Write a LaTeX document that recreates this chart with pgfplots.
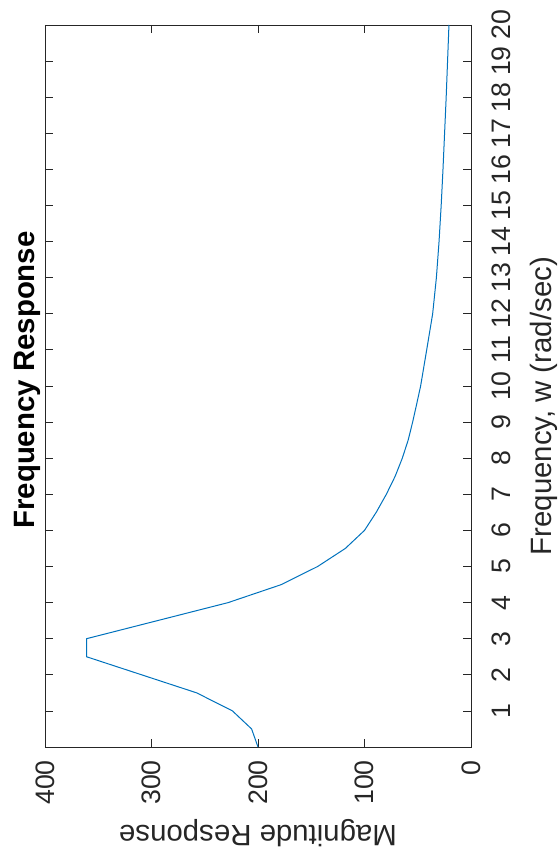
\documentclass[border=0pt]{standalone}
\usepackage{pgfplots}
\pgfplotsset{compat=1.18}
\usepackage{fontspec}
\setmainfont{Liberation Sans}
\definecolor{mblue}{rgb}{0,0.447,0.741}
\definecolor{axgray}{rgb}{0.15,0.15,0.15}
\newcommand{\tickfont}{\fontsize{26.7}{30}\selectfont}
\newcommand{\labfont}{\fontsize{29.4}{33}\selectfont}
\begin{document}
\begin{tikzpicture}
\useasboundingbox (-45pt,-103pt) rectangle (512pt,747pt);
\begin{axis}[
  at={(0,0)}, anchor=south west,
  scale only axis, width=426pt, height=722pt,
  xmin=0, xmax=400, ymin=0, ymax=20,
  x dir=reverse,
  axis line style={axgray, line width=0.8pt},
  every tick/.style={axgray, line width=0.8pt},
  tick align=inside,
  major tick length=8pt,
  xtick={0,100,200,300,400},
  xticklabels={0,100,200,300,400},
  ytick={1,2,...,20},
  yticklabels={1,2,3,4,5,6,7,8,9,10,11,12,13,14,15,16,17,18,19,20},
  xtick pos=both, ytick pos=both,
  yticklabel pos=right,
  xticklabel pos=left,
  xticklabel style={font=\tickfont, text=axgray, inner sep=0pt, yshift=-13pt, rotate=90, anchor=east},
  yticklabel style={font=\tickfont, text=axgray, inner sep=0pt, xshift=21pt, rotate=90, anchor=north},
  xlabel={Magnitude Response},
  xlabel style={font=\labfont, text=axgray, inner sep=0pt, at={(axis description cs:0.5,-0.1191)}, rotate=180, anchor=center},
  ylabel={Frequency, w (rad/sec)},
  ylabel style={font=\labfont, text=axgray, inner sep=0pt, at={(axis description cs:1.1385,0.472)}, anchor=north},
  title={\textbf{Frequency Response}},
  title style={font=\labfont, inner sep=0pt, at={(axis description cs:-0.0094,0.5)}, rotate=90, anchor=south},
]
\addplot[mblue, line width=1pt] coordinates {
(200,0) (206,0.5) (224,1.0) (257.6,1.5) (361,2.5) (361,3.0)
(228,4.0) (178,4.5) (144,5.0) (118,5.5) (100,6.0) (89,6.5)
(79.5,7.0) (71.2,7.5) (64.5,8.0) (59,8.5) (54.8,9.0) (51,9.5)
(47.3,10) (41.6,11) (36,12) (32.5,13) (30,14) (28,15) (26.3,16)
(24.8,17) (23.3,18) (22,19) (20.7,20)
};
\end{axis}
\end{tikzpicture}
\end{document}
